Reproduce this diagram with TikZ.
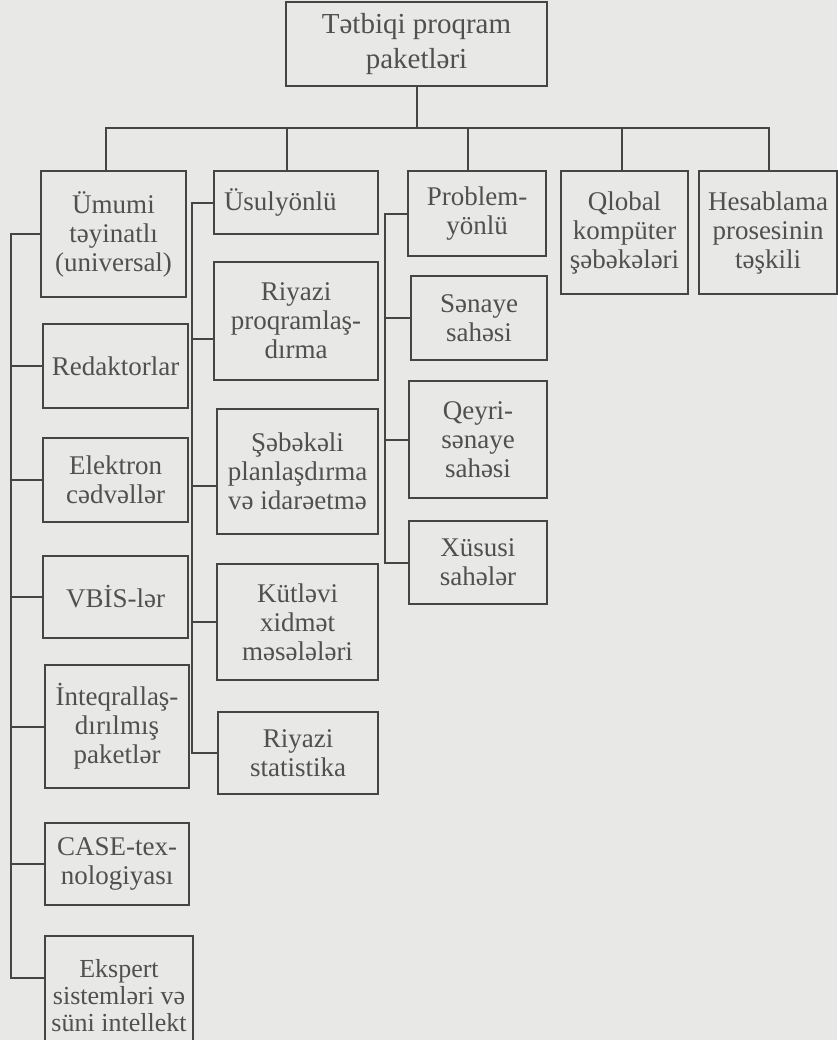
\documentclass[tikz,border=0pt]{standalone}
\usepackage{fontspec}
\setmainfont{Liberation Serif}
\definecolor{paper}{HTML}{E8E8E6}
\definecolor{ink}{HTML}{454545}
\definecolor{txt}{HTML}{505050}
\tikzset{
  pbox/.style={draw=ink,line width=1pt,text=txt,align=center,inner sep=0pt,
    anchor=north west,font=\fontsize{13.5}{14.5}\selectfont},
  link/.style={draw=ink,line width=1pt}
}
\begin{document}
\begin{tikzpicture}[x=0.5pt,y=-0.5pt]
\fill[paper] (0,0) rectangle (837,1040);
\useasboundingbox (0,0) rectangle (837,1040);

\node[pbox,minimum width=130.5pt,minimum height=42pt,font=\fontsize{14.5}{17.5}\selectfont] (root) at (285,1) {Tətbiqi proqram\\paketləri};

\node[pbox,minimum width=72.5pt,minimum height=63pt] (umumi) at (40,170) {Ümumi\\təyinatlı\\(universal)};
\node[pbox,text width=72pt,align=left,inner xsep=5pt,minimum height=31.5pt] (usul) at (213,170) {Üsulyönlü};
\node[pbox,minimum width=69pt,minimum height=42.5pt] (problem) at (407,170) {Problem-\\yönlü};
\node[pbox,minimum width=63.5pt,minimum height=61.5pt] (qlobal) at (560,170) {Qlobal\\kompüter\\şəbəkələri};
\node[pbox,minimum width=69pt,minimum height=61.5pt] (hesab) at (698,170) {Hesablama\\prosesinin\\təşkili};

\node[pbox,minimum width=72.5pt,minimum height=42pt] (red) at (42,323) {Redaktorlar};
\node[pbox,minimum width=72.5pt,minimum height=42pt] (elek) at (42,437) {Elektron\\cədvəllər};
\node[pbox,minimum width=72.5pt,minimum height=41pt] (vbis) at (42,555) {VBİS-lər};
\node[pbox,minimum width=72pt,minimum height=61.5pt] (integ) at (44,664) {İnteqrallaş-\\dırılmış\\paketlər};
\node[pbox,minimum width=72pt,minimum height=41pt] (case) at (44,822) {CASE-tex-\\nologiyası};
\node[pbox,minimum width=74pt,minimum height=60pt,font=\fontsize{13}{13.5}\selectfont] (ekspert) at (44,935) {Ekspert\\sistemləri və\\süni intellekt};

\node[pbox,minimum width=82pt,minimum height=59pt] (riyproq) at (213,261) {Riyazi\\proqramlaş-\\dırma};
\node[pbox,minimum width=80.5pt,minimum height=62.5pt] (sebeke) at (216,408) {Şəbəkəli\\planlaşdırma\\və idarəetmə};
\node[pbox,minimum width=80.5pt,minimum height=58pt] (kutlevi) at (216,563) {Kütləvi\\xidmət\\məsələləri};
\node[pbox,minimum width=80pt,minimum height=41pt] (riystat) at (217,711) {Riyazi\\statistika};

\node[pbox,minimum width=68pt,minimum height=42pt] (senaye) at (410,275) {Sənaye\\sahəsi};
\node[pbox,minimum width=69pt,minimum height=58.5pt] (qeyri) at (408,380) {Qeyri-\\sənaye\\sahəsi};
\node[pbox,minimum width=69pt,minimum height=41.5pt] (xususi) at (408,520) {Xüsusi\\sahələr};

% top level
\draw[link] (root.south) -- ++(0,41) coordinate (bus);
\foreach \n/\d in {umumi/-3.75,usul/-4.5,problem/-4.5,qlobal/-1.25,hesab/0.5}
  \draw[link] ([xshift=\d pt]\n.north) |- (bus);

% side branches
\draw[link] (umumi.west) -- ++(-29,0) coordinate (sp1) |- ([yshift=9pt]ekspert.west);
\foreach \n in {red,elek,vbis,integ,case}
  \draw[link] (\n.west) -- (\n.west -| sp1);

\draw[link] (usul.west) -- ++(-21,0) coordinate (sp2) |- (riystat.west);
\foreach \n/\d in {riyproq/-9,sebeke/-7.25,kutlevi/0}
  \draw[link] ([yshift=\d pt]\n.west) -- ([yshift=\d pt]\n.west -| sp2);

\draw[link] (problem.west) -- ++(-22,0) coordinate (sp3) |- (xususi.west);
\foreach \n in {senaye,qeyri}
  \draw[link] (\n.west) -- (\n.west -| sp3);
\end{tikzpicture}
\end{document}
